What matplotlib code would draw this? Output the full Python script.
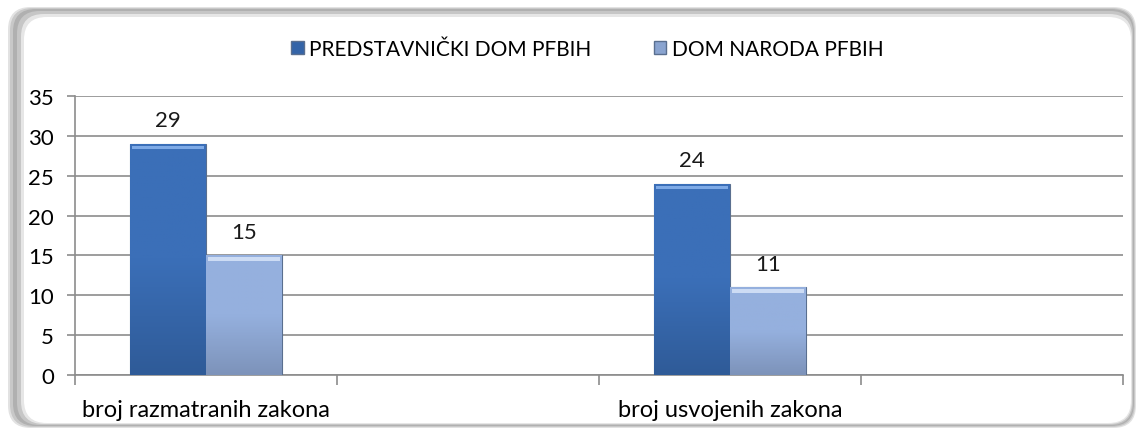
import numpy as np
import matplotlib
matplotlib.use("Agg")
import matplotlib.pyplot as plt
from matplotlib.patches import FancyBboxPatch, Patch

categories = ["broj razmatranih zakona", "", "broj usvojenih zakona", ""]
series_names = ["PREDSTAVNIČKI DOM PFBIH", "DOM NARODA PFBIH"]
predstavnicki = [29, None, 24, None]
dom_naroda = [15, None, 11, None]
y_ticks = [0, 5, 10, 15, 20, 25, 30, 35]

plt.rcParams['font.family'] = ['Lato', 'DejaVu Sans']

W, H = 1136, 431
fig = plt.figure(figsize=(W / 100, H / 100), dpi=100)
fig.patch.set_facecolor("white")

# rounded frame with a soft gray shadow (pixel boxes: left, bottom, right, top)
frame = [((8, 2, 1136, 423), "#e2e2e2"),
         ((10, 3, 1135, 422), "#c8c8c8"),
         ((13, 4, 1134, 421), "#b0b0b0"),
         ((17, 5, 1133, 419), "#c6c6c6"),
         ((21, 6, 1132, 416), "#e6e6e6"),
         ((24, 7, 1131, 413), "white")]
for (l, b, r, t), c in frame:
    fig.patches.append(FancyBboxPatch((l / W, b / H), (r - l) / W, (t - b) / H,
                                      boxstyle="round,pad=0,rounding_size=0.02",
                                      mutation_aspect=W / H,
                                      transform=fig.transFigure, facecolor=c,
                                      edgecolor="none", zorder=0))

ax = fig.add_axes([75 / W, 55 / H, (1123 - 75) / W, (376 - 97) / H])
ax.set_facecolor("none")
ax.set_zorder(2)

x = np.arange(len(categories))
bw = 0.29
styles = [("#2f5b98", "#3b6fb8", "#7eaae6"), ("#7d93ba", "#95b0de", "#cddcf4")]
for k, (vals, (c_bot, c_top, c_hi)) in enumerate(zip([predstavnicki, dom_naroda], styles)):
    off = (-0.5 + k) * bw
    for xi, v in zip(x, vals):
        if v is None:
            continue
        bars = ax.bar(xi + off, v, bw, color=c_top, edgecolor="#5a6f8f",
                      linewidth=0.8, zorder=3)
        rect = bars[0]
        # vertical gradient inside the bar
        grad = np.linspace(0, 1, 100).reshape(-1, 1)
        cmap = matplotlib.colors.LinearSegmentedColormap.from_list("g", [c_bot, c_top, c_top])
        im = ax.imshow(grad, extent=[xi + off - bw / 2, xi + off + bw / 2, 0, v],
                       origin="lower", aspect="auto", cmap=cmap, zorder=3.5)
        im.set_clip_path(rect)
        # top bevel highlight
        ax.bar(xi + off, 0.45, bw * 0.94, bottom=v - 0.7, color=c_hi,
               edgecolor="none", zorder=4)
        ax.text(xi + off, v + 1.7, str(v), ha="center", va="bottom",
                fontsize=16, color="#1a1a1a", zorder=5)

ax.set_xlim(-0.5, len(categories) - 0.5)
ax.set_ylim(0, 35)
ax.set_yticks(y_ticks)
ax.set_yticklabels([str(t) for t in y_ticks], fontsize=16)
ax.yaxis.grid(True, color="#8c8c8c", linewidth=1.2, zorder=0)
ax.set_axisbelow(True)

ax.set_xticks(np.arange(len(categories) + 1) - 0.5)
ax.set_xticklabels([])
ax.set_xticks(x, minor=True)
ax.set_xticklabels(categories, minor=True, fontsize=17)
ax.tick_params(axis="x", which="minor", length=0, pad=17)
ax.tick_params(axis="x", which="major", length=7, width=1.2, color="#8c8c8c", direction="out")
ax.tick_params(axis="y", length=6, width=1.2, color="#8c8c8c", pad=9)

for s in ["top", "right"]:
    ax.spines[s].set_visible(False)
for s in ["left", "bottom"]:
    ax.spines[s].set_color("#8c8c8c")
    ax.spines[s].set_linewidth(1.2)

handles = [Patch(facecolor="#3464a8", edgecolor="#5a6f8f"),
           Patch(facecolor="#8aa4d0", edgecolor="#5a6f8f")]
fig.legend(handles, series_names, loc="center", bbox_to_anchor=(0.517, 0.885),
           ncol=2, frameon=False, fontsize=15, handlelength=0.6, handleheight=0.6,
           handletextpad=0.25, columnspacing=3.0)

fig.savefig("out.png", dpi=100, facecolor=fig.get_facecolor())
